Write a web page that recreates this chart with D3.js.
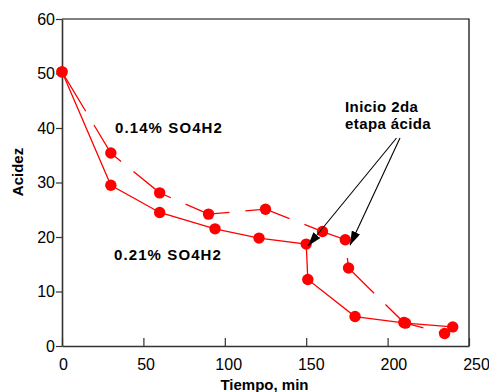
<!DOCTYPE html>
<html>
<head>
<meta charset="utf-8">
<script src="https://cdn.jsdelivr.net/npm/d3@7"></script>
<style>
  body { margin: 0; background: #fff; }
  text { font-family: Arial, "Liberation Sans", sans-serif; }
</style>
</head>
<body>
<div id="chart"></div>
<script>
// tiempo (min) y acidez
var tiempo021 = [0, 30, 60, 94, 121, 150, 151, 180, 211, 240];
var acidez021 = [50.3, 29.5, 24.5, 21.5, 19.8, 18.7, 12.2, 5.4, 4.2, 3.5];

var tiempo014 = [0, 30, 60, 90, 125, 160, 174, 176, 210, 235];
var acidez014 = [50.3, 35.4, 28.1, 24.2, 25.1, 21.0, 19.5, 14.3, 4.3, 2.3];

var xTicks = [0, 50, 100, 150, 200, 250];
var yTicks = [0, 10, 20, 30, 40, 50, 60];

// puntas de las flechas (tiempo, acidez)
var puntas = [[151.1, 18.35], [176.9, 18.5]];

var W = 489, H = 392;
var mLeft = 62, mTop = 19, mRight = 469, mBottom = 346;

var svg = d3.select("#chart").append("svg")
    .attr("width", W)
    .attr("height", H);

var x = d3.scaleLinear().domain([0, 250]).range([mLeft, mRight]);
var y = d3.scaleLinear().domain([0, 60]).range([mBottom, mTop]);

// marco superior y derecho
svg.append("path")
    .attr("d", "M" + mLeft + "," + mTop + "H" + mRight + "V" + mBottom)
    .attr("fill", "none")
    .attr("stroke", "#000")
    .attr("stroke-width", 1.2);

// eje x, marcas hacia dentro
var xAxis = svg.append("g")
    .attr("transform", "translate(0," + mBottom + ")")
    .call(d3.axisBottom(x).tickValues(xTicks).tickSizeInner(-8).tickSizeOuter(0).tickPadding(13));
xAxis.select(".domain").attr("stroke", "#333").attr("stroke-width", 1.6);
xAxis.selectAll(".tick line").attr("stroke", "#333").attr("stroke-width", 1.2);
xAxis.selectAll(".tick text")
    .attr("font-size", 16)
    .attr("fill", "#000")
    .attr("dx", function (d) { return 1 + d / 250 * 6; });

// eje y, marcas hacia fuera
var yAxis = svg.append("g")
    .attr("transform", "translate(" + mLeft + ",0)")
    .call(d3.axisLeft(y).tickValues(yTicks).tickSizeInner(6).tickSizeOuter(0).tickPadding(1));
yAxis.select(".domain").attr("stroke", "#333").attr("stroke-width", 1.6);
yAxis.selectAll(".tick line").attr("stroke", "#333").attr("stroke-width", 1.2);
yAxis.selectAll(".tick text").attr("font-size", 16).attr("fill", "#000");

// titulos de ejes
svg.append("text")
    .attr("x", (mLeft + mRight) / 2 - 1)
    .attr("y", 390)
    .attr("text-anchor", "middle")
    .attr("font-size", 15)
    .attr("font-weight", "bold")
    .text("Tiempo, min");

svg.append("text")
    .attr("transform", "translate(23,172) rotate(-90)")
    .attr("text-anchor", "middle")
    .attr("font-size", 15)
    .attr("font-weight", "bold")
    .text("Acidez");

var line = d3.line()
    .x(function (d) { return x(d[0]); })
    .y(function (d) { return y(d[1]); });

var serie021 = tiempo021.map(function (t, i) { return [t, acidez021[i]]; });
var serie014 = tiempo014.map(function (t, i) { return [t, acidez014[i]]; });

svg.append("path")
    .datum(serie021)
    .attr("d", line)
    .attr("fill", "none")
    .attr("stroke", "#ff0000")
    .attr("stroke-width", 1.3);

svg.append("path")
    .datum(serie014)
    .attr("d", line)
    .attr("fill", "none")
    .attr("stroke", "#ff0000")
    .attr("stroke-width", 1.3)
    .attr("stroke-dasharray", "46,16");

[serie021, serie014].forEach(function (s) {
    svg.append("g").selectAll("circle")
        .data(s)
        .enter().append("circle")
        .attr("cx", function (d) { return x(d[0]); })
        .attr("cy", function (d) { return y(d[1]); })
        .attr("r", 5.7)
        .attr("fill", "#ff0000");
});

// etiquetas de series
svg.append("text")
    .attr("x", 115).attr("y", 133)
    .attr("font-size", 15).attr("font-weight", "bold")
    .attr("letter-spacing", 1.1)
    .text("0.14% SO4H2");

svg.append("text")
    .attr("x", 114).attr("y", 260)
    .attr("font-size", 15).attr("font-weight", "bold")
    .attr("letter-spacing", 1.1)
    .text("0.21% SO4H2");

// anotacion con flechas
var nota = svg.append("text")
    .attr("font-size", 15).attr("font-weight", "bold")
    .attr("letter-spacing", 0.4);
nota.append("tspan").attr("x", 345).attr("y", 111.5).text("Inicio 2da");
nota.append("tspan").attr("x", 345).attr("y", 128.5).text("etapa ácida");

svg.append("defs").append("marker")
    .attr("id", "flecha")
    .attr("viewBox", "0 0 14 9")
    .attr("refX", 14).attr("refY", 4.5)
    .attr("markerWidth", 14).attr("markerHeight", 9)
    .attr("markerUnits", "userSpaceOnUse")
    .attr("orient", "auto")
    .append("path")
    .attr("d", "M0,0L14,4.5L0,9Z")
    .attr("fill", "#000");

var origenes = [[396.5, 138], [400, 138]];
svg.selectAll(".flecha")
    .data(puntas)
    .enter().append("line")
    .attr("class", "flecha")
    .attr("x1", function (d, i) { return origenes[i][0]; })
    .attr("y1", function (d, i) { return origenes[i][1]; })
    .attr("x2", function (d) { return x(d[0]); })
    .attr("y2", function (d) { return y(d[1]); })
    .attr("stroke", "#000")
    .attr("stroke-width", 1.1)
    .attr("marker-end", "url(#flecha)");
</script>
</body>
</html>
